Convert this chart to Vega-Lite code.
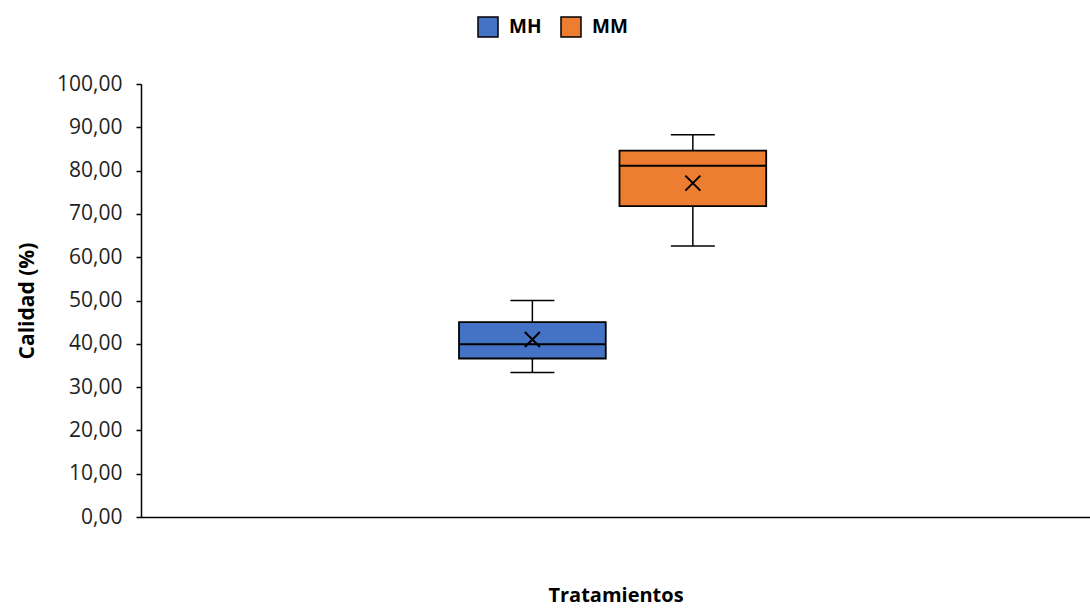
{
  "$schema": "https://vega.github.io/schema/vega-lite/v6.json",
  "width": 949,
  "height": 433,
  "autosize": {"type": "none"},
  "padding": {"left": 141, "top": 84, "right": 0, "bottom": 93},
  "background": "white",
  "config": {
    "view": {"stroke": null},
    "font": "Open Sans"
  },
  "data": {
    "values": [
      {"grupo": "MH", "min": 33.4, "q1": 36.6, "median": 39.9, "q3": 45.0, "max": 50.0, "mean": 41.0},
      {"grupo": "MM", "min": 62.6, "q1": 71.8, "median": 81.1, "q3": 84.6, "max": 88.3, "mean": 77.1}
    ]
  },
  "encoding": {
    "x": {
      "field": "grupo",
      "type": "nominal",
      "scale": {"domain": ["_a", "MH", "MM", "_b"], "paddingInner": 0.0855, "paddingOuter": 1, "align": 0.491},
      "axis": {
        "title": "Tratamientos",
        "labels": false,
        "ticks": false,
        "domain": true,
        "domainColor": "black",
        "domainWidth": 1.5,
        "titleFont": "Open Sans",
        "titleFontSize": 20,
        "titleFontWeight": "bold",
        "titleColor": "black",
        "titlePadding": 68
      }
    }
  },
  "layer": [
    {
      "mark": {"type": "rule", "stroke": "black", "strokeWidth": 1.5},
      "encoding": {
        "y": {
          "field": "min",
          "type": "quantitative",
          "scale": {"domain": [0, 100], "nice": false, "zero": true},
          "axis": {
            "title": "Calidad (%)",
            "values": [0, 10, 20, 30, 40, 50, 60, 70, 80, 90, 100],
            "labelExpr": "replace(format(datum.value, '.2f'), '.', ',')",
            "grid": false,
            "domainColor": "black",
            "domainWidth": 1.5,
            "tickColor": "black",
            "tickWidth": 1.5,
            "tickSize": 5,
            "labelPadding": 14,
            "labelFont": "Open Sans",
            "labelFontSize": 21,
            "labelColor": "#1f1f1f",
            "titleFont": "Open Sans",
            "titleFontSize": 21,
            "titleFontWeight": "bold",
            "titleColor": "black",
            "titlePadding": 19
          }
        },
        "y2": {"field": "max"}
      }
    },
    {
      "mark": {"type": "tick", "color": "black", "size": 44, "thickness": 1.5, "opacity": 1},
      "encoding": {"y": {"field": "min", "type": "quantitative"}}
    },
    {
      "mark": {"type": "tick", "color": "black", "size": 44, "thickness": 1.5, "opacity": 1},
      "encoding": {"y": {"field": "max", "type": "quantitative"}}
    },
    {
      "mark": {"type": "bar", "stroke": "black", "strokeWidth": 1.8, "opacity": 1},
      "encoding": {
        "y": {"field": "q1", "type": "quantitative"},
        "y2": {"field": "q3"},
        "color": {
          "field": "grupo",
          "type": "nominal",
          "scale": {"domain": ["MH", "MM"], "range": ["#4472C4", "#ED7D31"]},
          "legend": {
            "title": null,
            "orient": "none",
            "direction": "horizontal",
            "legendX": 336,
            "legendY": -68,
            "padding": 0,
            "symbolType": "square",
            "symbolSize": 400,
            "symbolStrokeColor": "black",
            "symbolStrokeWidth": 1.5,
            "symbolOpacity": 1,
            "labelFont": "Open Sans",
            "labelFontSize": 19,
            "labelFontWeight": "bold",
            "labelColor": "black",
            "labelOffset": 10,
            "columnPadding": 16
          }
        }
      }
    },
    {
      "mark": {"type": "tick", "color": "black", "size": 146, "thickness": 2, "opacity": 1},
      "encoding": {"y": {"field": "median", "type": "quantitative"}}
    },
    {
      "mark": {"type": "point", "shape": "M-1,-1L1,1M-1,1L1,-1", "size": 225, "filled": false, "stroke": "black", "strokeWidth": 2, "opacity": 1},
      "encoding": {"y": {"field": "mean", "type": "quantitative"}}
    }
  ]
}
